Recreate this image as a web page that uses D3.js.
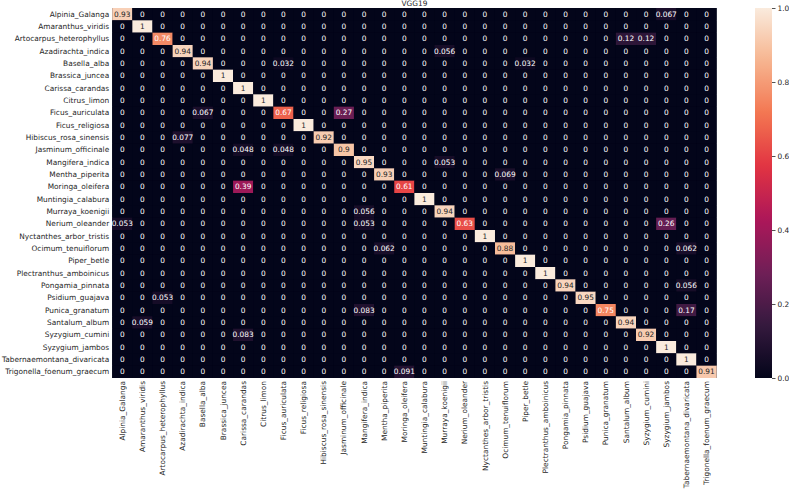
<!DOCTYPE html>
<html>
<head>
<meta charset="utf-8">
<script src="https://cdn.jsdelivr.net/npm/d3@7"></script>
<style>
  body { margin: 0; background: #fff; }
  text { font-family: "DejaVu Sans", sans-serif; }
</style>
</head>
<body>
<div id="chart"></div>
<script>
// class names (rows = true, cols = predicted)
const classes = [
  "Alpinia_Galanga", "Amaranthus_viridis", "Artocarpus_heterophyllus", "Azadirachta_indica",
  "Basella_alba", "Brassica_juncea", "Carissa_carandas", "Citrus_limon", "Ficus_auriculata",
  "Ficus_religiosa", "Hibiscus_rosa_sinensis", "Jasminum_officinale", "Mangifera_indica",
  "Mentha_piperita", "Moringa_oleifera", "Muntingia_calabura", "Murraya_koenigii",
  "Nerium_oleander", "Nyctanthes_arbor_tristis", "Ocimum_tenuiflorum", "Piper_betle",
  "Plectranthus_amboinicus", "Pongamia_pinnata", "Psidium_guajava", "Punica_granatum",
  "Santalum_album", "Syzygium_cumini", "Syzygium_jambos", "Tabernaemontana_divaricata",
  "Trigonella_foenum_graecum"
];

// normalized confusion matrix
const matrix = [
  [0.93,0,0,0,0,0,0,0,0,0,  0,0,0,0,0,0,0,0,0,0,  0,0,0,0,0,0,0,0.067,0,0],
  [0,1,0,0,0,0,0,0,0,0,  0,0,0,0,0,0,0,0,0,0,  0,0,0,0,0,0,0,0,0,0],
  [0,0,0.76,0,0,0,0,0,0,0,  0,0,0,0,0,0,0,0,0,0,  0,0,0,0,0,0.12,0.12,0,0,0],
  [0,0,0,0.94,0,0,0,0,0,0,  0,0,0,0,0,0,0.056,0,0,0,  0,0,0,0,0,0,0,0,0,0],
  [0,0,0,0,0.94,0,0,0,0.032,0,  0,0,0,0,0,0,0,0,0,0,  0.032,0,0,0,0,0,0,0,0,0],
  [0,0,0,0,0,1,0,0,0,0,  0,0,0,0,0,0,0,0,0,0,  0,0,0,0,0,0,0,0,0,0],
  [0,0,0,0,0,0,1,0,0,0,  0,0,0,0,0,0,0,0,0,0,  0,0,0,0,0,0,0,0,0,0],
  [0,0,0,0,0,0,0,1,0,0,  0,0,0,0,0,0,0,0,0,0,  0,0,0,0,0,0,0,0,0,0],
  [0,0,0,0,0.067,0,0,0,0.67,0,  0,0.27,0,0,0,0,0,0,0,0,  0,0,0,0,0,0,0,0,0,0],
  [0,0,0,0,0,0,0,0,0,1,  0,0,0,0,0,0,0,0,0,0,  0,0,0,0,0,0,0,0,0,0],
  [0,0,0,0.077,0,0,0,0,0,0,  0.92,0,0,0,0,0,0,0,0,0,  0,0,0,0,0,0,0,0,0,0],
  [0,0,0,0,0,0,0.048,0,0.048,0,  0,0.9,0,0,0,0,0,0,0,0,  0,0,0,0,0,0,0,0,0,0],
  [0,0,0,0,0,0,0,0,0,0,  0,0,0.95,0,0,0,0.053,0,0,0,  0,0,0,0,0,0,0,0,0,0],
  [0,0,0,0,0,0,0,0,0,0,  0,0,0,0.93,0,0,0,0,0,0.069,  0,0,0,0,0,0,0,0,0,0],
  [0,0,0,0,0,0,0.39,0,0,0,  0,0,0,0,0.61,0,0,0,0,0,  0,0,0,0,0,0,0,0,0,0],
  [0,0,0,0,0,0,0,0,0,0,  0,0,0,0,0,1,0,0,0,0,  0,0,0,0,0,0,0,0,0,0],
  [0,0,0,0,0,0,0,0,0,0,  0,0,0.056,0,0,0,0.94,0,0,0,  0,0,0,0,0,0,0,0,0,0],
  [0.053,0,0,0,0,0,0,0,0,0,  0,0,0.053,0,0,0,0,0.63,0,0,  0,0,0,0,0,0,0,0.26,0,0],
  [0,0,0,0,0,0,0,0,0,0,  0,0,0,0,0,0,0,0,1,0,  0,0,0,0,0,0,0,0,0,0],
  [0,0,0,0,0,0,0,0,0,0,  0,0,0,0.062,0,0,0,0,0,0.88,  0,0,0,0,0,0,0,0,0.062,0],
  [0,0,0,0,0,0,0,0,0,0,  0,0,0,0,0,0,0,0,0,0,  1,0,0,0,0,0,0,0,0,0],
  [0,0,0,0,0,0,0,0,0,0,  0,0,0,0,0,0,0,0,0,0,  0,1,0,0,0,0,0,0,0,0],
  [0,0,0,0,0,0,0,0,0,0,  0,0,0,0,0,0,0,0,0,0,  0,0,0.94,0,0,0,0,0,0.056,0],
  [0,0,0.053,0,0,0,0,0,0,0,  0,0,0,0,0,0,0,0,0,0,  0,0,0,0.95,0,0,0,0,0,0],
  [0,0,0,0,0,0,0,0,0,0,  0,0,0.083,0,0,0,0,0,0,0,  0,0,0,0,0.75,0,0,0,0.17,0],
  [0,0.059,0,0,0,0,0,0,0,0,  0,0,0,0,0,0,0,0,0,0,  0,0,0,0,0,0.94,0,0,0,0],
  [0,0,0,0,0,0,0.083,0,0,0,  0,0,0,0,0,0,0,0,0,0,  0,0,0,0,0,0,0.92,0,0,0],
  [0,0,0,0,0,0,0,0,0,0,  0,0,0,0,0,0,0,0,0,0,  0,0,0,0,0,0,0,1,0,0],
  [0,0,0,0,0,0,0,0,0,0,  0,0,0,0,0,0,0,0,0,0,  0,0,0,0,0,0,0,0,1,0],
  [0,0,0,0,0,0,0,0,0,0,  0,0,0,0,0.091,0,0,0,0,0,  0,0,0,0,0,0,0,0,0,0.91]
];

const colorbarTicks = [0, 0.2, 0.4, 0.6, 0.8, 1.0];

// "rocket" colormap sampled
const rocketStops = [0, 1/7, 2/7, 3/7, 4/7, 5/7, 6/7, 1];
const rocketColors = ["#03051a", "#35193e", "#701f57", "#ad1759", "#e13342", "#f37651", "#f6b48f", "#faebdd"];

const width = 789;
const height = 490;
const margin = { left: 112.2, top: 8, right: 716.6, bottom: 378 };
const textColor = "#262626";
const fs = 7.4;

const svg = d3.select("#chart")
  .append("svg")
    .attr("width", width)
    .attr("height", height);

const color = d3.scaleLinear()
  .domain(rocketStops)
  .range(rocketColors)
  .interpolate(d3.interpolateRgb)
  .clamp(true);

const x = d3.scaleBand()
  .domain(d3.range(classes.length))
  .range([margin.left, margin.right]);

const y = d3.scaleBand()
  .domain(d3.range(classes.length))
  .range([margin.top, margin.bottom]);

const fmt = d3.format(".2~g");

// relative luminance, same rule seaborn uses to pick annotation colour
function luminance(c) {
  const rgb = d3.rgb(c);
  const lin = v => { v /= 255; return v <= 0.03928 ? v / 12.92 : Math.pow((v + 0.055) / 1.055, 2.4); };
  return 0.2126 * lin(rgb.r) + 0.7152 * lin(rgb.g) + 0.0722 * lin(rgb.b);
}

const cells = [];
matrix.forEach((row, i) => row.forEach((v, j) => cells.push({ row: i, col: j, value: v })));

// dark backing so antialiased seams don't show white
svg.append("rect")
  .attr("x", margin.left)
  .attr("y", margin.top)
  .attr("width", margin.right - margin.left)
  .attr("height", margin.bottom - margin.top)
  .attr("fill", color(0));

const g = svg.append("g");

g.selectAll("rect.cell")
  .data(cells)
  .join("rect")
    .attr("class", "cell")
    .attr("x", d => x(d.col))
    .attr("y", d => y(d.row))
    .attr("width", x.bandwidth())
    .attr("height", y.bandwidth())
    .attr("fill", d => color(d.value));

g.selectAll("text.annot")
  .data(cells)
  .join("text")
    .attr("class", "annot")
    .attr("x", d => x(d.col) + x.bandwidth() / 2)
    .attr("y", d => y(d.row) + y.bandwidth() / 2)
    .attr("dy", "0.36em")
    .attr("text-anchor", "middle")
    .attr("font-size", fs)
    .attr("fill", d => luminance(color(d.value)) > 0.408 ? textColor : "#ffffff")
    .text(d => fmt(d.value));

// y axis labels
const yAxis = d3.axisLeft(y).tickSize(0).tickPadding(3).tickFormat(i => classes[i]);
svg.append("g")
  .attr("transform", `translate(${margin.left},0)`)
  .call(yAxis)
  .call(s => s.select(".domain").remove())
  .call(s => s.selectAll("text").attr("font-size", fs).attr("fill", textColor).attr("font-family", "DejaVu Sans"));

// x axis labels, rotated
const xAxis = d3.axisBottom(x).tickSize(0).tickPadding(0).tickFormat(i => classes[i]);
svg.append("g")
  .attr("transform", `translate(0,${margin.bottom})`)
  .call(xAxis)
  .call(s => s.select(".domain").remove())
  .call(s => s.selectAll("text")
    .attr("font-size", fs)
    .attr("fill", textColor)
    .attr("font-family", "DejaVu Sans")
    .attr("text-anchor", "end")
    .attr("transform", "translate(0,3) rotate(-90)")
    .attr("x", 0)
    .attr("y", 0)
    .attr("dy", "0.35em"));

// title
svg.append("text")
  .attr("x", (margin.left + margin.right) / 2)
  .attr("y", 6.3)
  .attr("text-anchor", "middle")
  .attr("font-size", fs)
  .attr("fill", textColor)
  .text("VGG19");

// colorbar
const cbX = 755, cbW = 17;
const cbScale = d3.scaleLinear().domain([0, 1]).range([margin.bottom, margin.top]);

const grad = svg.append("defs").append("linearGradient")
  .attr("id", "cbgrad")
  .attr("x1", 0).attr("y1", 1).attr("x2", 0).attr("y2", 0);
grad.selectAll("stop")
  .data(d3.range(0, 1.0001, 0.02))
  .join("stop")
    .attr("offset", d => d)
    .attr("stop-color", d => color(d));

svg.append("rect")
  .attr("x", cbX)
  .attr("y", margin.top)
  .attr("width", cbW)
  .attr("height", margin.bottom - margin.top)
  .attr("fill", "url(#cbgrad)");

svg.append("g")
  .attr("transform", `translate(${cbX + cbW},0)`)
  .call(d3.axisRight(cbScale).tickValues(colorbarTicks).tickFormat(d3.format(".1f")).tickSize(3.5).tickPadding(2))
  .call(s => s.select(".domain").remove())
  .call(s => s.selectAll("line").attr("stroke", textColor).attr("stroke-width", 0.8))
  .call(s => s.selectAll("text").attr("font-size", fs).attr("fill", textColor).attr("font-family", "DejaVu Sans"));
</script>
</body>
</html>
